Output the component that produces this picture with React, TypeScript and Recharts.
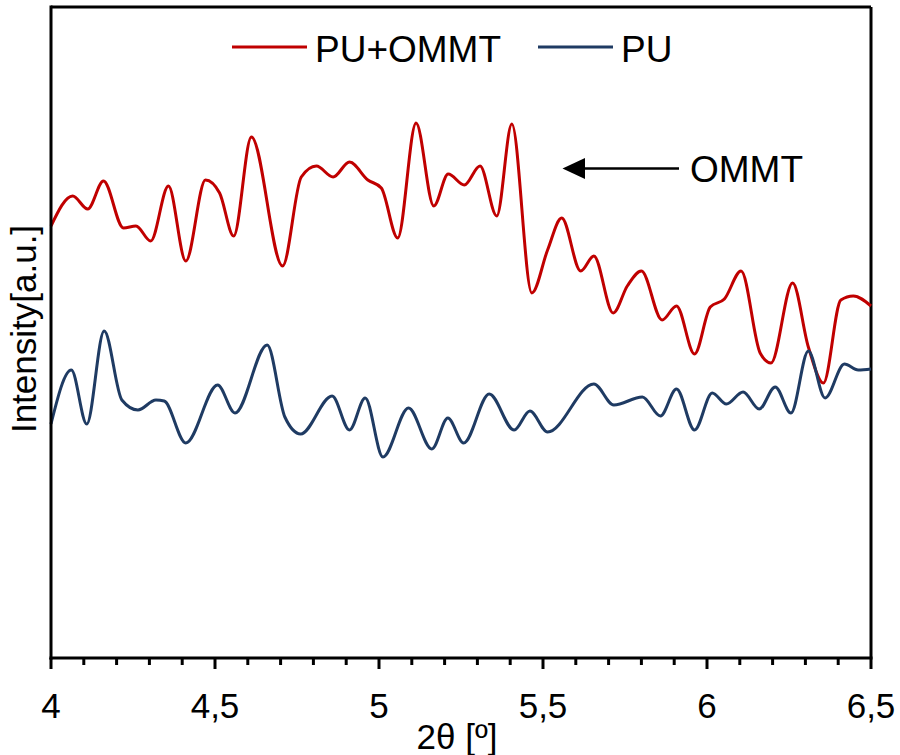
import React from 'react';
import { LineChart, Line, XAxis, YAxis, Legend, ReferenceLine } from 'recharts';

// 2θ positions and intensities (a.u.)
const puOmmtTheta = [
  4.0, 4.066, 4.112, 4.16, 4.221, 4.259, 4.304, 4.358, 4.411, 4.471, 4.514, 4.557,
  4.611, 4.706, 4.763, 4.809, 4.86, 4.91, 4.966, 5.007, 5.057, 5.113, 5.167, 5.211,
  5.26, 5.308, 5.359, 5.405, 5.466, 5.514, 5.557, 5.615, 5.655, 5.714, 5.757, 5.8,
  5.863, 5.907, 5.962, 6.01, 6.053, 6.104, 6.162, 6.195, 6.261, 6.309, 6.355, 6.408,
  6.446, 6.5,
];
const puOmmtIntensity = [
  432, 462, 449, 477, 430, 432, 417, 472, 397, 478, 465, 422,
  521, 392, 481, 492, 481, 496, 478, 470, 420, 535, 452, 484,
  473, 492, 442, 534, 365, 408, 440, 387, 402, 345, 372, 387,
  338, 352, 304, 351, 359, 387, 305, 295, 375, 311, 275, 358,
  362, 352,
];

const puTheta = [
  4.0, 4.062, 4.109, 4.162, 4.216, 4.265, 4.32, 4.345, 4.411, 4.508, 4.561, 4.659,
  4.713, 4.761, 4.857, 4.91, 4.958, 5.012, 5.09, 5.161, 5.21, 5.258, 5.336, 5.412,
  5.46, 5.514, 5.655, 5.716, 5.803, 5.858, 5.907, 5.962, 6.016, 6.059, 6.11, 6.159,
  6.208, 6.256, 6.309, 6.36, 6.419, 6.461, 6.5,
];
const puIntensity = [
  234, 288, 234, 327, 258, 248, 258, 257, 215, 273, 245, 313,
  241, 224, 262, 228, 260, 201, 250, 209, 240, 215, 264, 228,
  247, 226, 274, 253, 261, 242, 269, 228, 265, 254, 266, 249,
  271, 245, 307, 260, 294, 288, 289,
];

const xTicks = [
  4, 4.1, 4.2, 4.3, 4.4, 4.5, 4.6, 4.7, 4.8, 4.9, 5, 5.1, 5.2,
  5.3, 5.4, 5.5, 5.6, 5.7, 5.8, 5.9, 6, 6.1, 6.2, 6.3, 6.4, 6.5,
];
const majorTicks = [4, 4.5, 5, 5.5, 6, 6.5];
const legendOrder = ['PU+OMMT', 'PU'];

const puOmmtData = puOmmtTheta.map((x, i) => ({ x, y: puOmmtIntensity[i] }));
const puData = puTheta.map((x, i) => ({ x, y: puIntensity[i] }));

const FONT = '"Liberation Sans", Arial, sans-serif';
const legendX = [232, 538];

const XTick = (props: any) => {
  const { x, y, payload } = props;
  const major = majorTicks.includes(payload.value);
  return (
    <g>
      <line x1={x} x2={x} y1={y} y2={y + (major ? 11 : 7)} stroke="#000" strokeWidth={3} />
      {major && (
        <text x={x} y={y + 60} textAnchor="middle" fontSize={35} fontFamily={FONT} fill="#000">
          {String(payload.value).replace('.', ',')}
        </text>
      )}
    </g>
  );
};

const renderLegend = (props: any) => {
  const items = legendOrder
    .map((name) => (props.payload || []).find((p: any) => p.value === name))
    .filter(Boolean);
  return (
    <svg width={900} height={70}>
      {items.map((p: any, i: number) => (
        <g key={p.value}>
          <line x1={legendX[i]} x2={legendX[i] + 75} y1={47} y2={47} stroke={p.color} strokeWidth={3} />
          <text x={legendX[i] + 83} y={61.5} fontSize={37} fontFamily={FONT} fill="#000">
            {p.value}
          </text>
        </g>
      ))}
    </svg>
  );
};

export default function App() {
  return (
    <div style={{ position: 'absolute', left: 0, top: 0, width: 900, height: 755, background: '#fff' }}>
      <LineChart width={900} height={755} margin={{ top: 7, right: 29, bottom: 0, left: 0 }}>
        <XAxis
          type="number"
          dataKey="x"
          domain={[4, 6.5]}
          ticks={xTicks}
          interval={0}
          height={97}
          tickSize={0}
          tickMargin={0}
          tickLine={false}
          tick={<XTick />}
          axisLine={{ stroke: '#000', strokeWidth: 3, strokeLinecap: 'square' }}
          label={{
            content: () => (
              <text x={457} y={749} textAnchor="middle" fontSize={35} fontFamily={FONT} fill="#000">
                2θ [º]
              </text>
            ),
          }}
        />
        <YAxis
          type="number"
          domain={[0, 651]}
          width={51}
          tick={false}
          tickLine={false}
          axisLine={{ stroke: '#000', strokeWidth: 3, strokeLinecap: 'square' }}
          label={{
            content: () => (
              <text
                transform="translate(36,329) rotate(-90)"
                textAnchor="middle"
                fontSize={35}
                fontFamily={FONT}
                fill="#000"
              >
                Intensity[a.u.]
              </text>
            ),
          }}
        />
        <ReferenceLine y={651} stroke="#000" strokeWidth={3} />
        <ReferenceLine x={6.5} stroke="#000" strokeWidth={3} />
        <Legend
          layout="horizontal"
          verticalAlign="middle"
          align="center"
          content={renderLegend}
          wrapperStyle={{ top: 0, left: 0, width: 900, height: 70 }}
        />
        <Line
          data={puOmmtData}
          dataKey="y"
          name="PU+OMMT"
          type="monotone"
          stroke="#C00000"
          strokeWidth={3}
          dot={false}
          activeDot={false}
          isAnimationActive={false}
        />
        <Line
          data={puData}
          dataKey="y"
          name="PU"
          type="monotone"
          stroke="#1F3B63"
          strokeWidth={3}
          dot={false}
          activeDot={false}
          isAnimationActive={false}
        />
      </LineChart>
      <svg
        width={900}
        height={755}
        style={{ position: 'absolute', left: 0, top: 0, pointerEvents: 'none' }}
      >
        <line x1={584} x2={679} y1={168.5} y2={168.5} stroke="#000" strokeWidth={2.5} />
        <polygon points="562.5,168.5 585,158 585,179" fill="#000" />
        <text x={690} y={181.7} fontSize={37} fontFamily={FONT} fill="#000">
          OMMT
        </text>
      </svg>
    </div>
  );
}
